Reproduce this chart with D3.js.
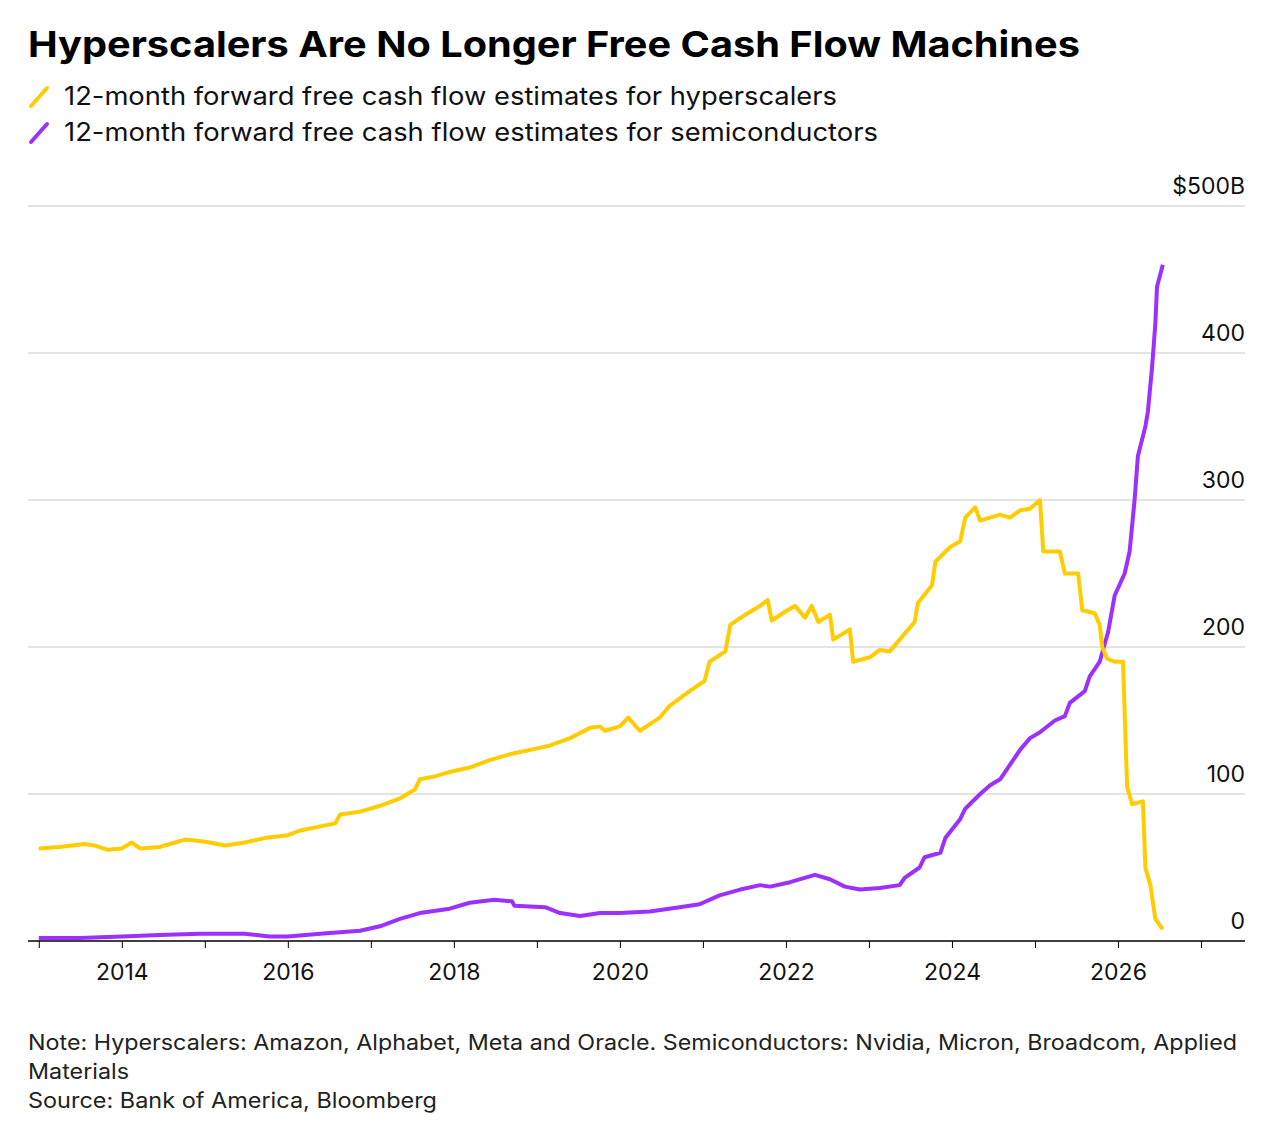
<!DOCTYPE html>
<html><head><meta charset="utf-8">
<script src="https://cdn.jsdelivr.net/npm/d3@7"></script>
<style>body{margin:0;background:#fff;font-family:Inter,"Liberation Sans",sans-serif;}</style>
</head><body><svg id="c" width="1288" height="1128"></svg>
<script>
const hyperYears = [2013.0,2013.25,2013.55,2013.67,2013.83,2014.0,2014.12,2014.22,2014.46,2014.64,2014.76,2014.94,2015.06,2015.24,2015.48,2015.72,2016.0,2016.14,2016.39,2016.57,2016.63,2016.87,2017.11,2017.35,2017.53,2017.59,2017.77,2017.95,2018.19,2018.43,2018.67,2018.92,2019.16,2019.4,2019.64,2019.76,2019.82,2020.0,2020.1,2020.24,2020.48,2020.6,2020.84,2021.02,2021.08,2021.27,2021.33,2021.51,2021.69,2021.78,2021.83,2021.99,2022.11,2022.23,2022.31,2022.39,2022.53,2022.57,2022.77,2022.81,2023.01,2023.13,2023.25,2023.37,2023.55,2023.59,2023.76,2023.8,2023.98,2024.1,2024.16,2024.28,2024.34,2024.58,2024.7,2024.82,2024.94,2025.06,2025.1,2025.3,2025.36,2025.52,2025.57,2025.72,2025.78,2025.81,2025.87,2025.96,2026.06,2026.11,2026.17,2026.3,2026.33,2026.39,2026.45,2026.54];
const hyperValues = [63,64,66,65,62,63,67,63,64,67,69,68,67,65,67,70,72,75,78,80,86,88,92,97,103,110,112,115,118,123,127,130,133,138,145,146,143,146,152,143,152,160,170,177,190,197,215,222,228,232,218,224,228,220,228,217,222,205,212,190,193,198,197,205,217,230,242,258,268,272,288,295,286,290,288,293,294,300,265,265,250,250,225,223,215,200,192,190,190,105,93,95,50,38,15,8];
const semiYears = [2013.0,2013.49,2014,2014.46,2014.94,2015.48,2015.78,2016,2016.39,2016.87,2017.11,2017.35,2017.59,2017.95,2018.19,2018.49,2018.7,2018.73,2019.1,2019.28,2019.52,2019.76,2020,2020.36,2020.72,2020.96,2021.2,2021.45,2021.69,2021.81,2022.05,2022.35,2022.53,2022.71,2022.89,2023.13,2023.37,2023.43,2023.61,2023.67,2023.86,2023.92,2024.1,2024.16,2024.34,2024.46,2024.58,2024.7,2024.82,2024.94,2025.06,2025.24,2025.36,2025.42,2025.6,2025.66,2025.78,2025.88,2025.96,2026.08,2026.14,2026.2,2026.24,2026.33,2026.36,2026.41,2026.45,2026.47,2026.54];
const semiValues = [2,2,3,4,5,5,3,3,5,7,10,15,19,22,26,28,27,24,23,19,17,19,19,20,23,25,31,35,38,37,40,45,42,37,35,36,38,43,50,57,60,70,83,90,100,106,110,120,130,138,142,150,153,162,170,180,190,210,235,250,265,300,330,350,360,390,420,445,460];
const yTicks = [0,100,200,300,400,500];
const yTickLabels = ["0","100","200","300","400","$500B"];
const xLabelYears = [2014,2016,2018,2020,2022,2024,2026];
const legendLabels = ["12-month forward free cash flow estimates for hyperscalers","12-month forward free cash flow estimates for semiconductors"];
const legendWidths = [773, 814];
const colors = ["#ffcc00","#9b30ff"];

const svg = d3.select("#c");
const x = d3.scaleLinear().domain([2012.87, 2027.53]).range([28, 1245]);
const y = d3.scaleLinear().domain([0, 500]).range([941, 206]);

svg.append("text").attr("x", 28).attr("y", 57).text("Hyperscalers Are No Longer Free Cash Flow Machines")
  .attr("textLength", 1052).attr("lengthAdjust", "spacingAndGlyphs")
  .style("font-size", "36px").style("font-weight", "bold").attr("fill", "#000");

legendLabels.forEach((t, i) => {
  const cy = 97 + i * 36;
  svg.append("line").attr("x1", 31).attr("y1", cy + 9).attr("x2", 47).attr("y2", cy - 9)
    .attr("stroke", colors[i]).attr("stroke-width", 4).attr("stroke-linecap", "round");
  svg.append("text").attr("x", 64).attr("y", cy + 8).text(t)
    .attr("textLength", legendWidths[i]).attr("lengthAdjust", "spacingAndGlyphs")
    .style("font-size", "25px").attr("fill", "#111");
});

yTicks.forEach((v, i) => {
  svg.append("line").attr("x1", 28).attr("x2", 1245).attr("y1", y(v)).attr("y2", y(v))
    .attr("stroke", v === 0 ? "#000" : "#c8c8c8").attr("stroke-width", v === 0 ? 1.5 : 1.2);
  svg.append("text").attr("x", 1245).attr("y", y(v) - 12).attr("text-anchor", "end")
    .text(yTickLabels[i]).style("font-size", "23px").attr("fill", "#111");
});

const xAxis = svg.append("g").attr("transform", "translate(0,941)")
  .call(d3.axisBottom(x).tickValues(d3.range(2013, 2028)).tickSize(7)
    .tickFormat(d => xLabelYears.includes(d) ? d : ""));
xAxis.select(".domain").remove();
xAxis.selectAll("line").attr("stroke", "#000");
xAxis.selectAll("text").style("font-size", "23px").attr("fill", "#111").attr("dy", "1.25em").style("font-family", "Inter, sans-serif");

const line = d3.line().x(d => x(d[0])).y(d => y(d[1]));
[[semiYears, semiValues, colors[1]], [hyperYears, hyperValues, colors[0]]].forEach(([ys, vs, c]) => {
  svg.append("path").datum(ys.map((yy, j) => [yy, vs[j]])).attr("d", line)
    .attr("fill", "none").attr("stroke", c)
    .attr("stroke-width", 4).attr("stroke-linejoin", "round");
});

const notes = ["Note: Hyperscalers: Amazon, Alphabet, Meta and Oracle. Semiconductors: Nvidia, Micron, Broadcom, Applied",
 "Materials", "Source: Bank of America, Bloomberg"];
const noteWidths = [1209, 101, 409];
notes.forEach((t, i) => {
  svg.append("text").attr("x", 28).attr("y", 1050 + i * 29).text(t)
    .attr("textLength", noteWidths[i]).attr("lengthAdjust", "spacingAndGlyphs")
    .style("font-size", "21px").attr("fill", "#222");
});
</script></body></html>
